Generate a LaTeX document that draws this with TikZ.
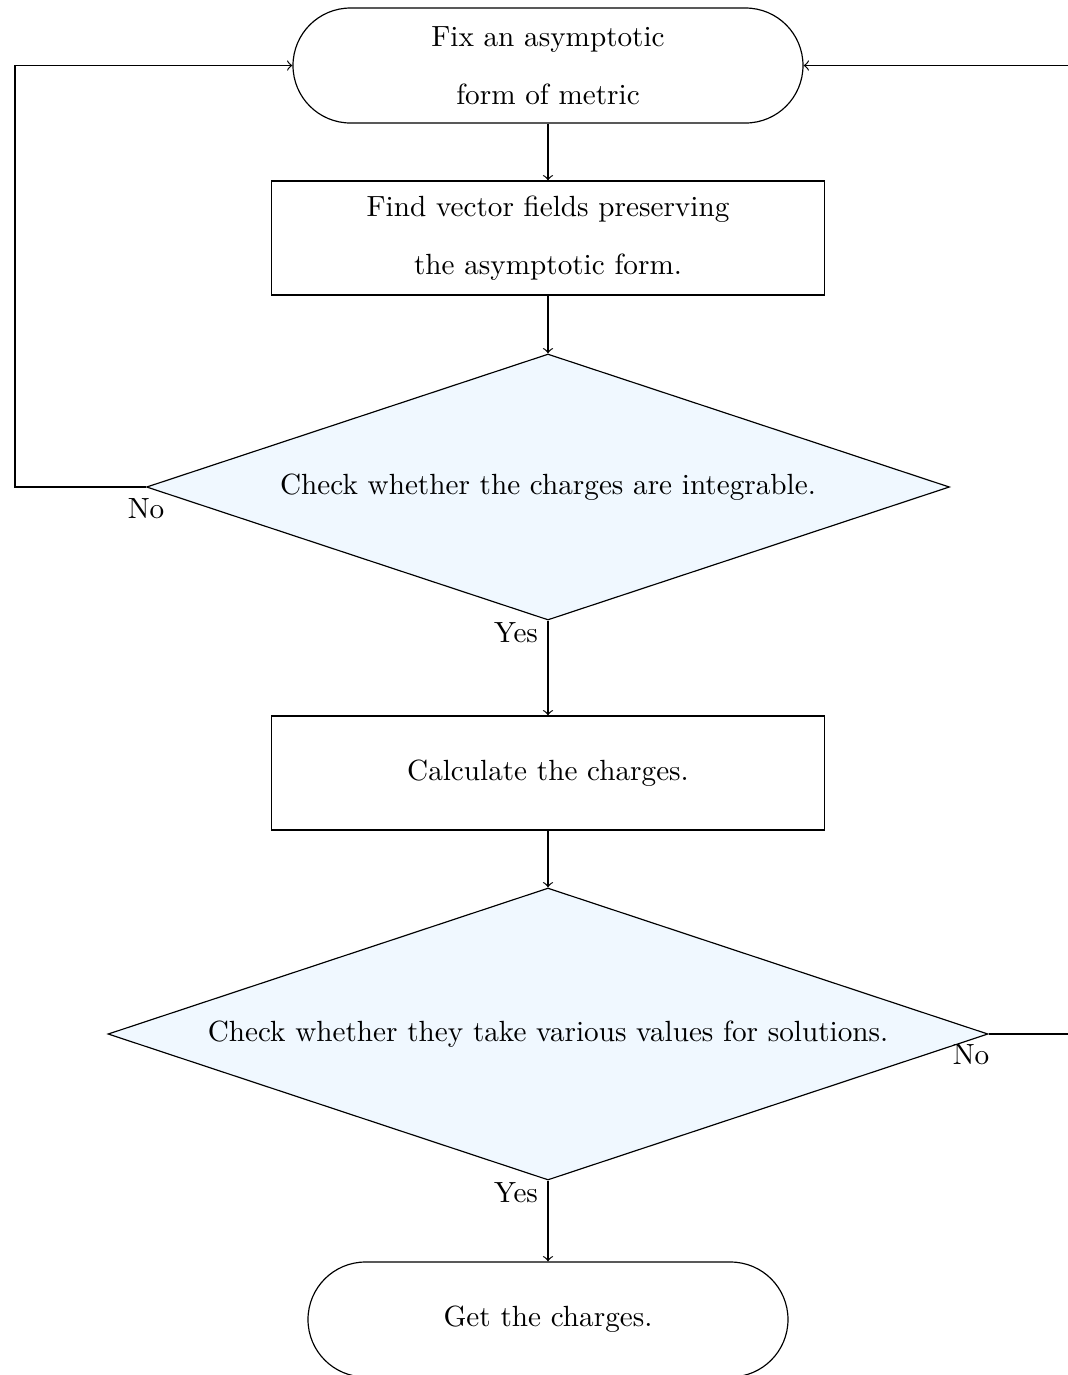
\documentclass[tikz,border=0pt]{standalone}
\usetikzlibrary{shapes.geometric,shapes.misc}
% one drawing unit
\newlength\pxu
\setlength\pxu{0.3425pt}
\definecolor{decisionfill}{RGB}{240,248,255}
\tikzset{
  flow/.style={draw=black, line width=0.4pt, align=center, inner sep=0pt},
  terminal/.style={flow, rounded rectangle, minimum width=510\pxu, minimum height=115\pxu},
  process/.style={flow, rectangle, minimum width=553\pxu, minimum height=114\pxu},
  decision/.style={flow, diamond, fill=decisionfill, aspect=3},
  link/.style={draw=black, line width=0.4pt, ->},
  branch/.style={inner sep=1pt}
}
\begin{document}
\begin{tikzpicture}[x=\pxu, y=-\pxu]
  \useasboundingbox (0,0) rectangle (1068,1375);

  % steps
  \node[terminal] (start) at (548,65.5) {Fix an asymptotic\\[8pt] form of metric};
  \node[process] (find) at (548,238) {Find vector fields preserving\\[8pt] the asymptotic form.};
  \node[decision, minimum width=803\pxu, minimum height=266\pxu] (integ) at (548,487)
    {Check whether the charges are integrable.};
  \node[process] (calc) at (548,773) {Calculate the charges.};
  \node[decision, minimum width=880\pxu, minimum height=292\pxu] (vary) at (548,1034)
    {Check whether they take various values for solutions.};
  \node[terminal, minimum width=480\pxu] (done) at (548,1319.5) {Get the charges.};

  % main flow
  \draw[link] (start.south) -- (find.north);
  \draw[link] (find.south) -- (integ.north);
  \draw[link] (integ.south) -- (calc.north);
  \draw[link] (calc.south) -- (vary.north);
  \draw[link] (vary.south) -- (done.north);

  % return paths
  \coordinate (lrail) at (15,0);
  \coordinate (rrail) at (1085,0);
  \draw[link] (integ.west) -- (integ.west -| lrail) |- (start.west);
  \draw[link] (vary.east) -- (vary.east -| rrail) |- (start.east);

  % branch labels
  \node[branch] (no1) at (146,509) {No};
  \node[branch] (yes1) at (516,633) {Yes};
  \node[branch] (no2) at (971,1055) {No};
  \node[branch] (yes2) at (516,1193) {Yes};
\end{tikzpicture}
\end{document}
